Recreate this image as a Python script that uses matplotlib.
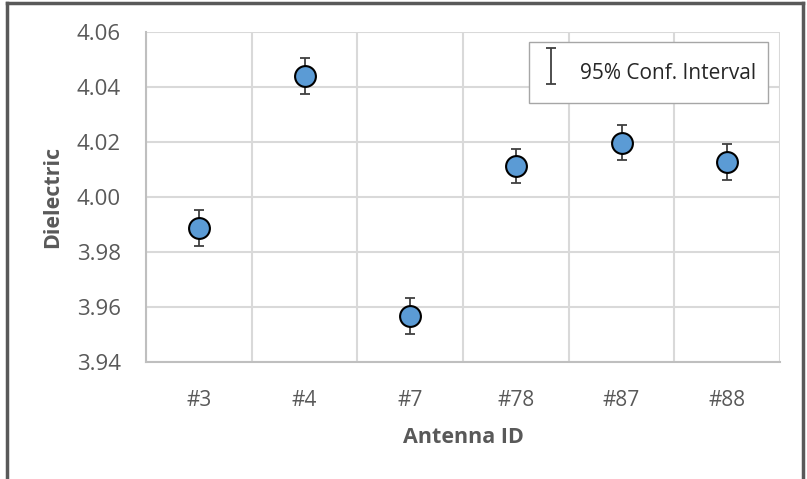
import matplotlib
matplotlib.use('Agg')
import matplotlib.pyplot as plt
from matplotlib.lines import Line2D
from matplotlib.container import ErrorbarContainer
from matplotlib.legend_handler import HandlerErrorbar
import numpy as np

antennas = ['#3', '#4', '#7', '#78', '#87', '#88']
dielectric = [3.9887, 4.0440, 3.9567, 4.0113, 4.0198, 4.0127]
ci95 = [0.0065, 0.0065, 0.0065, 0.0063, 0.0065, 0.0065]

plt.rcParams['font.family'] = ['Open Sans', 'DejaVu Sans']

fig = plt.figure(figsize=(8.07, 4.79), dpi=100)
ax = fig.add_axes([146 / 807, 1 - 362 / 479, 634 / 807, 330 / 479])

x = np.arange(len(antennas))
eb = ax.errorbar(x, dielectric, yerr=ci95, fmt='none', ecolor='#404040',
                 elinewidth=1.3, capsize=3.5, capthick=1.3, zorder=3,
                 label='95% Conf. Interval')
ax.plot(x, dielectric, 'o', ms=15, mfc='#5B9BD5', mec='black', mew=1.5,
        ls='none', zorder=4)

ax.set_xlim(-0.5, len(antennas) - 0.5)
ax.set_ylim(3.94, 4.06)
yt = np.arange(3.94, 4.0601, 0.02)
ax.set_yticks(yt)
ax.set_yticklabels([f'{v:.2f}' for v in yt])
ax.set_xticks(x)
ax.set_xticklabels(antennas)
ax.set_xticks(np.arange(-0.5, len(antennas)), minor=True)

ax.grid(True, which='major', axis='y', color='#D9D9D9', lw=1.5)
ax.grid(True, which='minor', axis='x', color='#D9D9D9', lw=1.5)
ax.set_axisbelow(True)
ax.tick_params(which='both', length=0)
ax.tick_params(axis='y', pad=18, labelsize=16, labelcolor='#595959')
ax.tick_params(axis='x', pad=20, labelsize=15, labelcolor='#595959')

for side in ['top', 'right']:
    ax.spines[side].set_visible(False)
for side in ['left', 'bottom']:
    ax.spines[side].set_color('#BFBFBF')
    ax.spines[side].set_linewidth(1.5)

ax.set_xlabel('Antenna ID', fontsize=15.5, fontweight='bold', color='#595959', labelpad=12)
ax.set_ylabel('Dielectric', fontsize=15.5, fontweight='bold', color='#595959', labelpad=10)

leg = ax.legend(handles=[eb], loc='upper right', bbox_to_anchor=(768 / 807, 1 - 42 / 479),
                bbox_transform=fig.transFigure, borderaxespad=0, fancybox=False,
                framealpha=1, edgecolor='#A6A6A6', fontsize=15, handlelength=1.0,
                handleheight=2.4, borderpad=0.55, handletextpad=0.9,
                handler_map={ErrorbarContainer: HandlerErrorbar(yerr_size=0.85)})
leg.get_frame().set_linewidth(1.0)
for txt in leg.get_texts():
    txt.set_color('#262626')

# outer chart border
for xs, ys in [([7, 7], [0, 476]), ([7, 803], [476, 476]), ([803, 803], [476, 0])]:
    fig.add_artist(Line2D(np.array(xs) / 807, np.array(ys) / 479,
                          transform=fig.transFigure, color='#595959', lw=2.5))

fig.savefig('out.png', dpi=100)
